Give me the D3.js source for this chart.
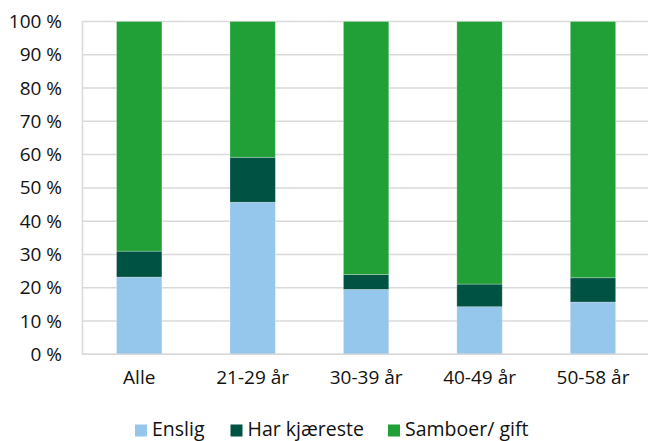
<!DOCTYPE html>
<html><head><meta charset="utf-8">
<script src="https://cdn.jsdelivr.net/npm/d3@7"></script>
<style>body{margin:0;background:#fff}svg{display:block;font-family:"Open Sans",sans-serif}</style>
</head><body><svg id="c" width="648" height="441"></svg>
<script>
const categories = ["Alle", "21-29 år", "30-39 år", "40-49 år", "50-58 år"];
const seriesNames = ["Enslig", "Har kjæreste", "Samboer/ gift"];
const enslig = [23.2, 45.7, 19.5, 14.3, 15.7];
const harKjaereste = [7.8, 13.5, 4.5, 6.8, 7.3];
const samboerGift = [69.0, 40.8, 76.0, 78.9, 77.0];
const yTicks = [0, 10, 20, 30, 40, 50, 60, 70, 80, 90, 100];
const colors = ["#95C6EB", "#005242", "#21A038"];

const svg = d3.select("#c");
const pLeft = 82.5, pRight = 649.7, pTop = 21.5, pBottom = 354.3;
const x = d3.scaleBand().domain(categories).range([pLeft, pRight]).paddingInner(0.6).paddingOuter(0.3);
const y = d3.scaleLinear().domain([0, 100]).range([pBottom, pTop]);

// gridlines
svg.append("g").selectAll("line").data(yTicks).join("line")
  .attr("x1", pLeft).attr("x2", 648).attr("y1", d => y(d)).attr("y2", d => y(d))
  .attr("stroke", "#D9D9D9").attr("stroke-width", 1.5);
svg.append("line").attr("x1", pLeft).attr("x2", pLeft).attr("y1", pTop).attr("y2", pBottom)
  .attr("stroke", "#D9D9D9").attr("stroke-width", 1.5);

// y axis labels
const yAxis = d3.axisLeft(y).tickValues(yTicks).tickFormat(d => d + " %").tickSize(0).tickPadding(20.5);
const ya = svg.append("g").attr("transform", `translate(${pLeft},0)`).call(yAxis);
ya.select(".domain").remove();
ya.selectAll("text").attr("font-size", 19).attr("fill", "#111").attr("font-family", "Open Sans");

// stacked data
const rows = categories.map((c, i) => ({cat: c, "Enslig": enslig[i], "Har kjæreste": harKjaereste[i], "Samboer/ gift": samboerGift[i]}));
const stack = d3.stack().keys(seriesNames)(rows);
svg.append("g").selectAll("g").data(stack).join("g").attr("fill", (d, i) => colors[i])
  .selectAll("rect").data(d => d).join("rect")
  .attr("x", d => x(d.data.cat)).attr("width", x.bandwidth())
  .attr("y", d => y(d[1])).attr("height", d => y(d[0]) - y(d[1]))
  .attr("stroke", "rgba(255,255,255,0.35)").attr("stroke-width", 0.75);

// bottom axis line
svg.append("line").attr("x1", pLeft).attr("x2", 648).attr("y1", pBottom).attr("y2", pBottom)
  .attr("stroke", "#D9D9D9").attr("stroke-width", 1.5);

// x labels
const xAxis = d3.axisBottom(x).tickSize(0).tickPadding(16);
const xa = svg.append("g").attr("transform", `translate(0,${pBottom})`).call(xAxis);
xa.select(".domain").remove();
xa.selectAll("text").attr("font-size", 19).attr("fill", "#111").attr("font-family", "Open Sans");

// legend
const legendX = [135, 230.5, 388];
const lg = svg.append("g").selectAll("g").data(seriesNames).join("g")
  .attr("transform", (d, i) => `translate(${legendX[i]},424.5)`);
lg.append("rect").attr("width", 12).attr("height", 12).attr("fill", (d, i) => colors[i]);
lg.append("text").attr("x", 17).attr("y", 11.5).attr("font-size", 19.5).attr("fill", "#111").text(d => d);
</script></body></html>
